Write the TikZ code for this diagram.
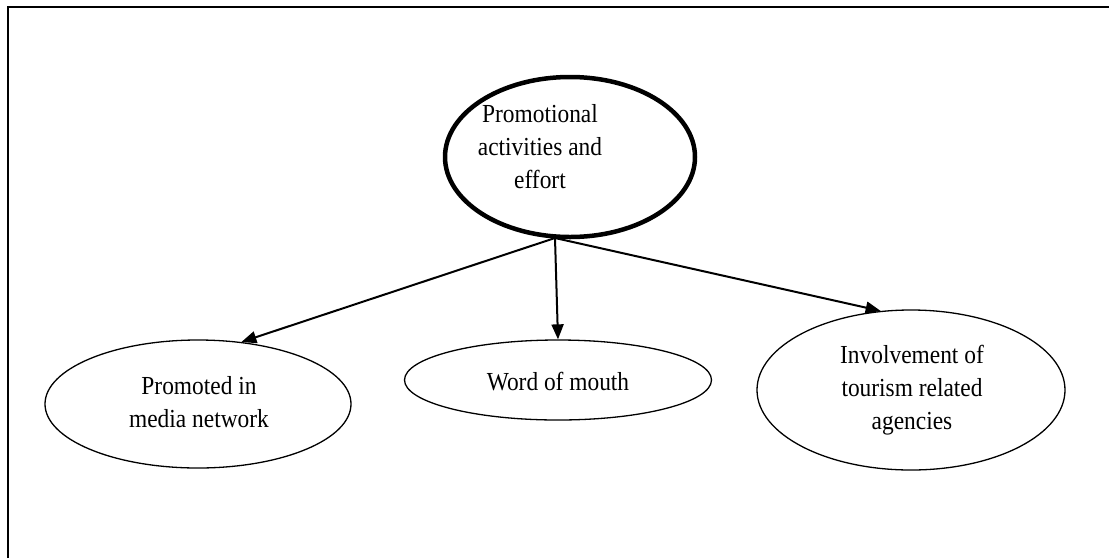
\documentclass[tikz,border=0pt]{standalone}
\usepackage{fontspec}
\setmainfont[FakeStretch=0.9]{Liberation Serif}
\usetikzlibrary{arrows.meta,shapes.geometric}
\begin{document}
\begin{tikzpicture}[x=1pt,y=-1pt,
  bubble/.style={ellipse,draw,line width=1.3pt,inner sep=0pt},
  mainbubble/.style={bubble,line width=4.5pt},
  txt/.style={align=center,inner sep=0pt,font=\fontsize{26}{33}\selectfont},
  link/.style={line width=2pt,-{Triangle[length=15pt,width=12pt]}}]
\useasboundingbox (0,0) rectangle (1109,558);
% open frame: top and left edges
\coordinate (frameA) at (8,558);
\coordinate (frameB) at (8,7);
\coordinate (frameC) at (1109,7);
\draw[line width=2pt] (frameA) -- (frameB) -- (frameC);
% central idea
\node[mainbubble,minimum width=250pt,minimum height=160pt] (top) at (570,157) {};
\node[txt] (toptext) at (540,147) {Promotional\\activities and\\effort};
% outcomes
\node[bubble,minimum width=306pt,minimum height=128pt] (media) at (198,404) {};
\node[txt] (mediatext) at (199,402) {Promoted in\\media network};
\node[bubble,minimum width=307pt,minimum height=80pt] (mouth) at (558,380) {};
\node[txt] (mouthtext) at (558,382) {Word of mouth};
\node[bubble,minimum width=308pt,minimum height=160pt] (agency) at (911,390) {};
\node[txt] (agencytext) at (912,390) {Involvement of\\tourism related\\agencies};
% connectors
\coordinate (src) at (555,238);
\draw[link] (src) -- (media.55.7);
\draw[link] (src) -- (mouth.north);
\draw[link] (src) -- (agency.111.6);
\end{tikzpicture}
\end{document}
